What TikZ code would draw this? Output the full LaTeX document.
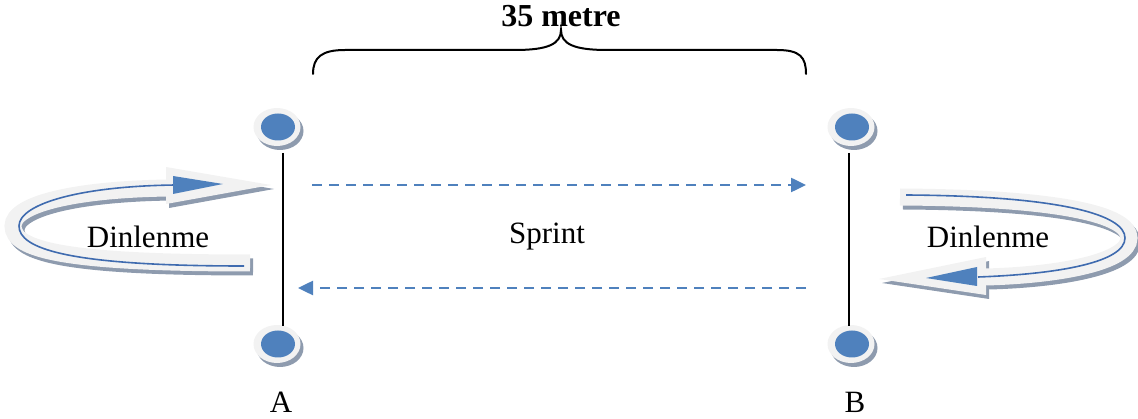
\documentclass[tikz,border=0pt]{standalone}
\usepackage{fontspec}
\setmainfont{Liberation Serif}
\usetikzlibrary{arrows.meta,shapes.geometric,shadows}
\definecolor{dotblue}{HTML}{4F81BD}
\definecolor{bandfill}{HTML}{F2F2F2}
\definecolor{bandshade}{HTML}{8E9BAE}
\definecolor{lineblue}{HTML}{3F6BAF}
\tikzset{
  caption/.style={font=\fontsize{31}{31}\selectfont, inner sep=0pt},
  marker/.style={ellipse, minimum width=47pt, minimum height=38pt, inner sep=0pt,
    fill=bandfill, drop shadow={shadow xshift=3pt, shadow yshift=-4pt, fill=bandshade, opacity=1}},
  pole/.style={line width=2pt},
  run/.style={dotblue, line width=2.5pt, dash pattern=on 10pt off 7pt,
    -{Triangle[length=15pt,width=14pt]}},
  band/.style={bandfill, line width=17pt},
  bandshadow/.style={bandshade, line width=17pt},
  ribbon/.style={lineblue, line width=1.6pt},
  brace/.style={line width=2pt, line cap=round}
}
\begin{document}
\begin{tikzpicture}[x=1pt,y=-1pt]
\useasboundingbox (0,0) rectangle (1138,419);

% start and turn markers
\node[marker] (a1) at (277,127) {};
\node[marker] (a2) at (277,344) {};
\node[marker] (b1) at (851,127) {};
\node[marker] (b2) at (851,344) {};
\foreach \m in {a1,a2,b1,b2}
  \fill[dotblue] ([xshift=1pt]\m.center) ellipse [x radius=17, y radius=13.5];

% poles between the markers
\draw[pole] (283,153) -- (283,326);
\draw[pole] (849,153) -- (849,326);

% sprint runs
\coordinate (s1) at (312,185);
\coordinate (e1) at (806,185);
\coordinate (s2) at (806,288);
\coordinate (e2) at (298,288);
\draw[run] (s1) -- (e1);
\draw[run] (s2) -- (e2);

% distance brace
\draw[brace] (313,74) .. controls (313,57) and (322,50) .. (345,50) -- (515,50)
  .. controls (548,50) and (561,44) .. (561,30)
  .. controls (561,44) and (574,50) .. (607,50) -- (777,50)
  .. controls (800,50) and (806,57) .. (806,74);
\node[font=\bfseries\fontsize{32}{32}\selectfont, inner sep=0pt] (dist) at (561,16) {35 metre};

% rest loop at A
\begin{scope}[shift={(3,4)}]
  \draw[bandshadow] (250,263) .. controls (65,263) and (13,250) .. (13,226)
    .. controls (13,203) and (80,189) .. (170,188);
  \fill[bandshade] (166,167) -- (271,185) -- (166,204) -- cycle;
\end{scope}
\draw[band] (250,263) .. controls (65,263) and (13,250) .. (13,226)
  .. controls (13,203) and (80,189) .. (170,188);
\fill[bandfill] (166,167) -- (271,185) -- (166,204) -- cycle;
\draw[ribbon] (244,266) .. controls (65,266) and (19,248) .. (19,226)
  .. controls (19,204) and (80,186) .. (176,185);
\fill[dotblue] (173,176) -- (223,184) -- (173,194) -- cycle;

% rest loop at B
\begin{scope}[shift={(3,4)}]
  \draw[bandshadow] (900,197) .. controls (1062,198) and (1129,215) .. (1129,238)
    .. controls (1129,262) and (1060,275) .. (986,277);
  \fill[bandshade] (986,257) -- (879,279) -- (986,295) -- cycle;
\end{scope}
\draw[band] (900,197) .. controls (1062,198) and (1129,215) .. (1129,238)
  .. controls (1129,262) and (1060,275) .. (986,277);
\fill[bandfill] (986,257) -- (879,279) -- (986,295) -- cycle;
\draw[ribbon] (906,195) .. controls (1062,196) and (1125,215) .. (1125,238)
  .. controls (1125,262) and (1060,274) .. (978,277);
\fill[dotblue] (977,267) -- (926,278) -- (977,286) -- cycle;

% labels
\node[caption] (rA) at (148,237) {Dinlenme};
\node[caption] (rB) at (988,237) {Dinlenme};
\node[caption] (sp) at (547,237) {Sprint};
\node[caption] (lA) at (281,402) {A};
\node[caption] (lB) at (855,402) {B};
\end{tikzpicture}
\end{document}
